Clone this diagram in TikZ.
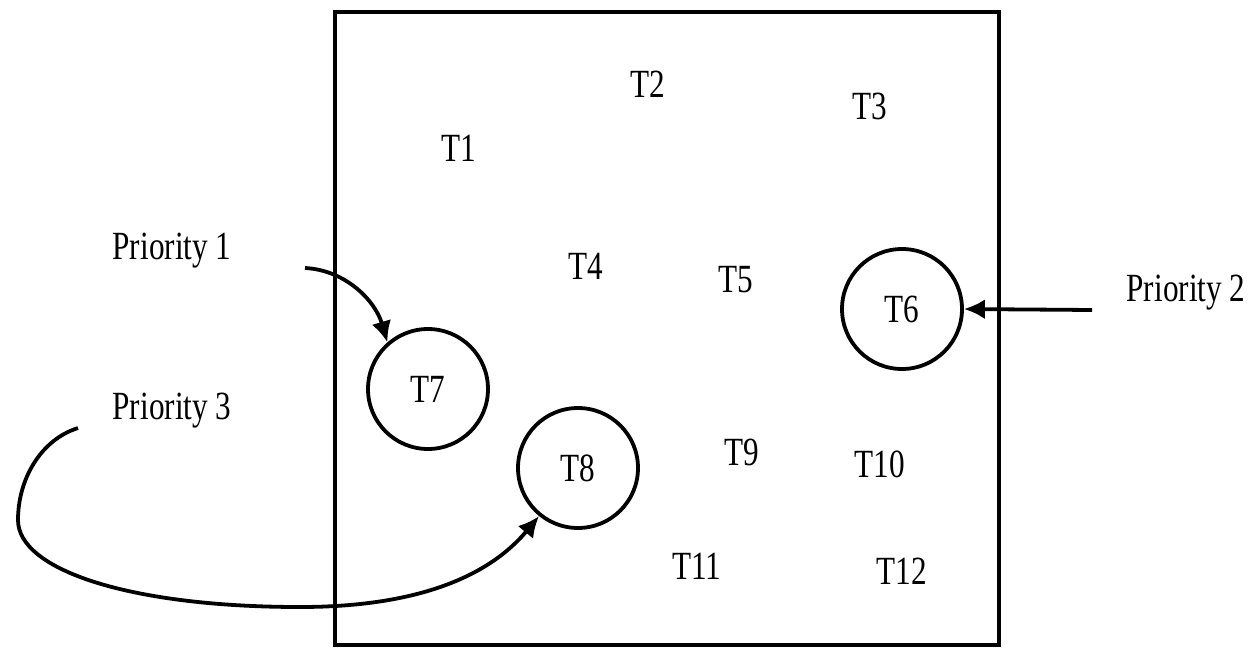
\documentclass[tikz,border=0pt]{standalone}
\usepackage{fontspec}
\newfontfamily\tnr[FakeStretch=0.78]{Liberation Serif}
\usetikzlibrary{arrows.meta}
\begin{document}
\begin{tikzpicture}[x=1pt,y=-1pt,
  lbl/.style={font=\tnr\fontsize{40}{44}\selectfont, inner sep=0pt},
  task/.style={lbl, circle, draw, line width=3.8pt, minimum size=120pt},
  conn/.style={line width=3.8pt, -{Latex[length=21pt,width=20pt]}}]
\useasboundingbox (0,0) rectangle (1255,648);
\node[draw, line width=3.8pt, minimum width=664pt, minimum height=633pt, inner sep=0pt] (box) at (667,328.5) {};
\node[lbl] (t1) at (459,148) {T1};
\node[lbl] (t2) at (648,84) {T2};
\node[lbl] (t3) at (870,106) {T3};
\node[lbl] (t4) at (586,266) {T4};
\node[lbl] (t5) at (736,280) {T5};
\node[task] (t6) at (902,309) {T6};
\node[task] (t7) at (428,389) {T7};
\node[task] (t8) at (578,468) {T8};
\node[lbl] (t9) at (742,452) {T9};
\node[lbl] (t10) at (880,464) {T10};
\node[lbl] (t11) at (697,566) {T11};
\node[lbl] (t12) at (902,571) {T12};
\node[lbl] (p1) at (172,251) {Priority 1};
\node[lbl] (p2) at (1186,293) {Priority 2};
\node[lbl] (p3) at (172,411) {Priority 3};
\coordinate (p1s) at (305,268);
\coordinate (p2s) at (1092,310);
\coordinate (p3s) at (78,428);
\draw[conn] (p1s) .. controls (345,270) and (375,300) .. (t7.131);
\draw[conn] (p2s) -- (t6.east);
\draw[conn] (p3s) .. controls (40,440) and (18,480) .. (18,520)
  .. controls (18,570) and (130,607) .. (300,607)
  .. controls (420,607) and (490,575) .. (t8.231);
\end{tikzpicture}
\end{document}
